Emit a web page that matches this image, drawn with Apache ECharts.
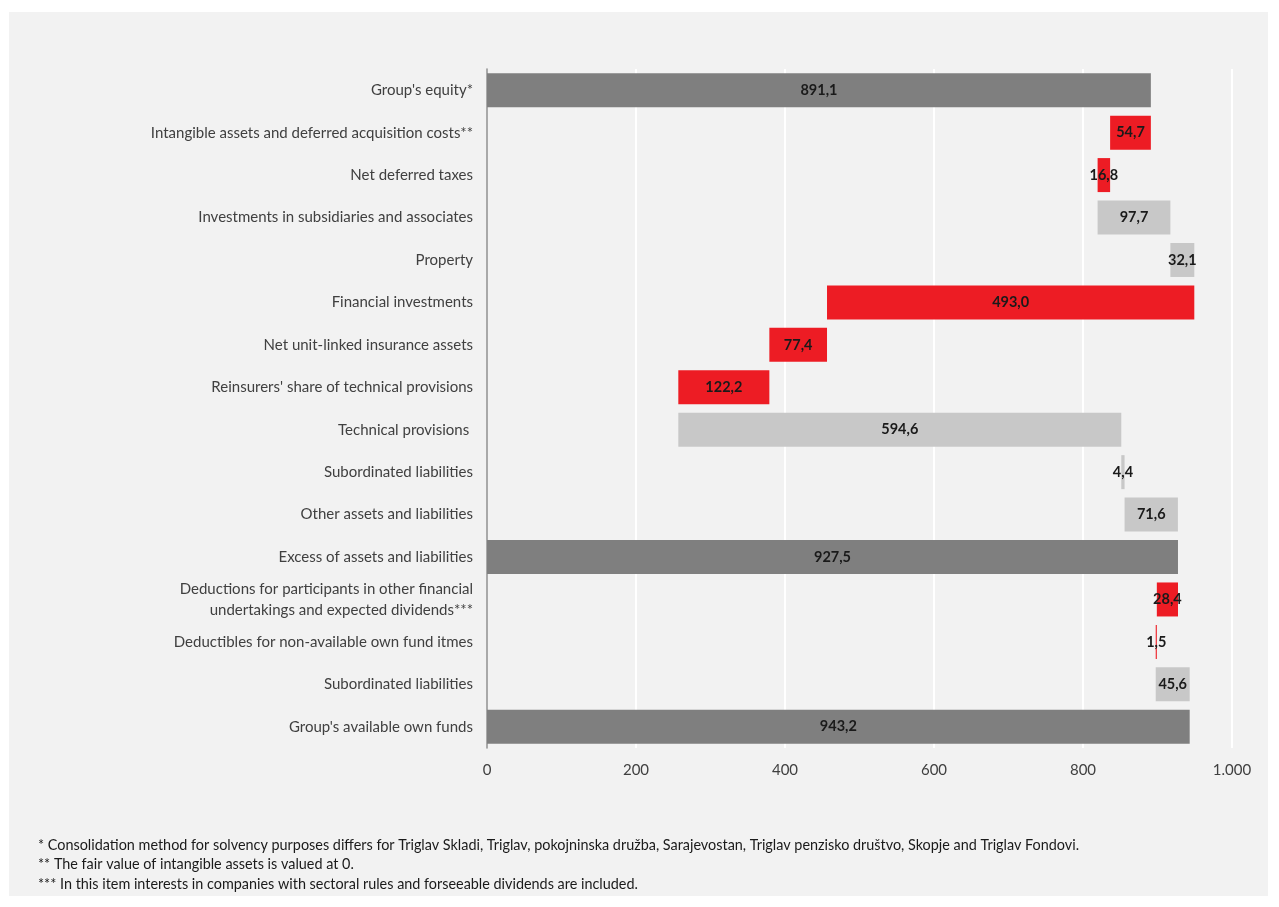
<!DOCTYPE html>
<html><head><meta charset="utf-8">
<script src="https://cdn.jsdelivr.net/npm/echarts@6/dist/echarts.min.js"></script>
<style>
html,body{margin:0;padding:0;background:#fff;}
#wrap{position:absolute;left:9px;top:12px;width:1259px;height:884px;background:#f2f2f2;}
#c{position:absolute;left:0;top:0;width:1279px;height:907px;}
</style></head>
<body>
<div id="wrap"></div>
<div id="c"></div>
<script>
const categories = [
  "Group's equity*",
  "Intangible assets and deferred acquisition costs**",
  "Net deferred taxes",
  "Investments in subsidiaries and associates",
  "Property",
  "Financial investments",
  "Net unit-linked insurance assets",
  "Reinsurers' share of technical provisions",
  "Technical provisions ",
  "Subordinated liabilities",
  "Other assets and liabilities",
  "Excess of assets and liabilities",
  "Deductions for participants in other financial\nundertakings and expected dividends***",
  "Deductibles for non-available own fund itmes",
  "Subordinated liabilities",
  "Group's available own funds"
];
const values = [891.1, 54.7, 16.8, 97.7, 32.1, 493.0, 77.4, 122.2, 594.6, 4.4, 71.6, 927.5, 28.4, 1.5, 45.6, 943.2];
// total = bar from zero, dec = step down, inc = step up
const kinds = ["total","dec","dec","inc","inc","dec","dec","dec","inc","inc","inc","total","dec","dec","inc","total"];
const xTicks = [0, 200, 400, 600, 800, 1000];
const footnotes = [
  "* Consolidation method for solvency purposes differs for Triglav Skladi, Triglav, pokojninska družba, Sarajevostan, Triglav penzisko društvo, Skopje and Triglav Fondovi.",
  "** The fair value of intangible assets is valued at 0.",
  "*** In this item interests in companies with sectoral rules and forseeable dividends are included."
];

const colors = {total:'#7f7f7f', dec:'#ed1c24', inc:'#c8c8c8'};
const base = [], shown = [];
let level = 0;
values.forEach((v,i)=>{
  const k = kinds[i];
  if (k === 'total') { base.push(0); level = v; }
  else if (k === 'dec') { level -= v; base.push(level); }
  else { base.push(level); level += v; }
  shown.push({value: v, itemStyle: {color: colors[k]}});
});

const fmt = v => v.toFixed(1).replace('.', ',');
const chart = echarts.init(document.getElementById('c'));
chart.setOption({
  animation: false,
  backgroundColor: 'transparent',
  textStyle: {fontFamily: 'Lato'},
  grid: {left: 487, right: 47, top: 69, height: 679, containLabel: false},
  xAxis: {
    type: 'value', min: xTicks[0], max: xTicks[xTicks.length-1], interval: 200,
    axisLine: {show: false}, axisTick: {show: false},
    splitLine: {show: true, lineStyle: {color: '#ffffff', width: 2}},
    axisLabel: {color: '#404040', fontSize: 15, margin: 15,
      formatter: v => v >= 1000 ? String(Math.floor(v/1000)) + '.' + String(v%1000).padStart(3,'0') : String(v)}
  },
  yAxis: {
    type: 'category', inverse: true, data: categories,
    axisLine: {show: true, lineStyle: {color: '#8c8c8c', width: 1.5}},
    axisTick: {show: false},
    axisLabel: {color: '#404040', fontSize: 15, margin: 14, lineHeight: 21, align: 'right'}
  },
  series: [
    {type: 'bar', stack: 'w', data: base, barWidth: 34, itemStyle: {color: 'transparent'}, silent: true},
    {type: 'bar', stack: 'w', data: shown, barWidth: 34,
     label: {show: true, position: 'inside', color: '#1a1a1a', fontSize: 14.5, fontWeight: 'bold',
       formatter: p => fmt(p.value)}}
  ],
  graphic: footnotes.map((t,i)=>({
    type: 'text', left: 38, top: 838 + i*19.5,
    style: {text: t, fill: '#1a1a1a', font: '14.4px Lato'}
  }))
});
</script>
</body></html>
